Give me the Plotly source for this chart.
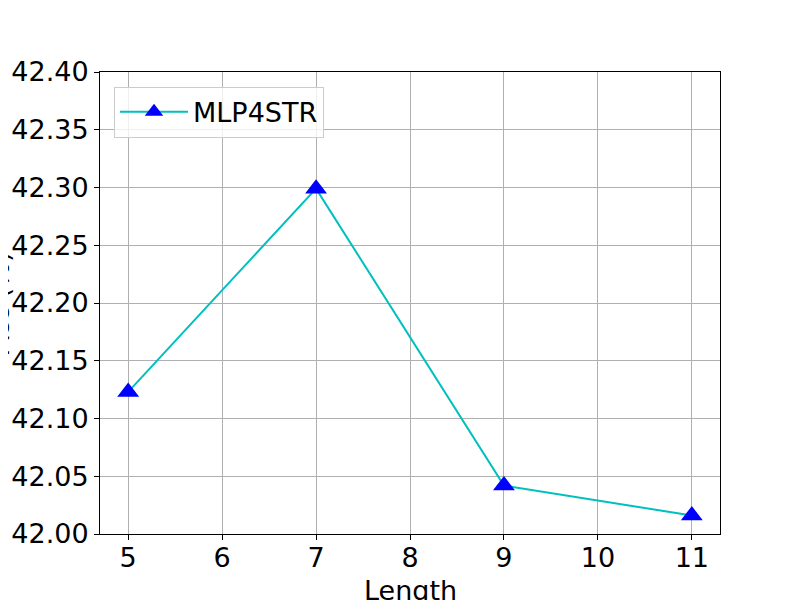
import plotly.graph_objects as go

lengths = [5, 7, 9, 11]
scores = [42.123, 42.299, 42.042, 42.016]
series_name = "MLP4STR"
x_title = "Length"
y_title = "Acc (%)"

fig = go.Figure()
fig.add_trace(go.Scatter(
    x=lengths, y=scores, name=series_name, mode="lines+markers",
    line=dict(color="#00bfbf", width=2),
    marker=dict(symbol="triangle-up", size=19, color="#0000ff",
                line=dict(width=0)),
))

font = dict(family="DejaVu Sans", size=27, color="black")
axis_common = dict(
    showline=True, linecolor="black", linewidth=1, mirror=True,
    ticks="outside", ticklen=5, tickcolor="black", tickwidth=1,
    showgrid=True, gridcolor="#b0b0b0", gridwidth=1, zeroline=False,
    tickfont=font, automargin=False,
)
fig.update_layout(
    width=800, height=600,
    margin=dict(l=92, r=88, t=64, b=74, autoexpand=False),
    paper_bgcolor="white", plot_bgcolor="white",
    font=font,
    showlegend=True,
    legend=dict(x=0.0226, y=0.968, xanchor="left", yanchor="top",
                bgcolor="rgba(255,255,255,0.8)", bordercolor="#cccccc",
                borderwidth=1, font=font, itemwidth=68),
    xaxis=dict(range=[4.7, 11.3], tickmode="array", tickvals=list(range(5, 12)),
               ticklabelstandoff=-5, **axis_common),
    yaxis=dict(range=[42.0, 42.4], dtick=0.05, tick0=42.0, tickformat=".2f",
               **axis_common),
    annotations=[
        dict(text=y_title, textangle=-90, xref="paper", yref="paper",
             x=(8 - 92) / 620, y=0.5, xanchor="right", yanchor="middle",
             showarrow=False, font=font),
        dict(text=x_title, xref="paper", yref="paper",
             x=0.5, y=(534 - 590) / 462, xanchor="center", yanchor="middle",
             showarrow=False, font=font),
    ],
)
fig.write_html("out.html")
